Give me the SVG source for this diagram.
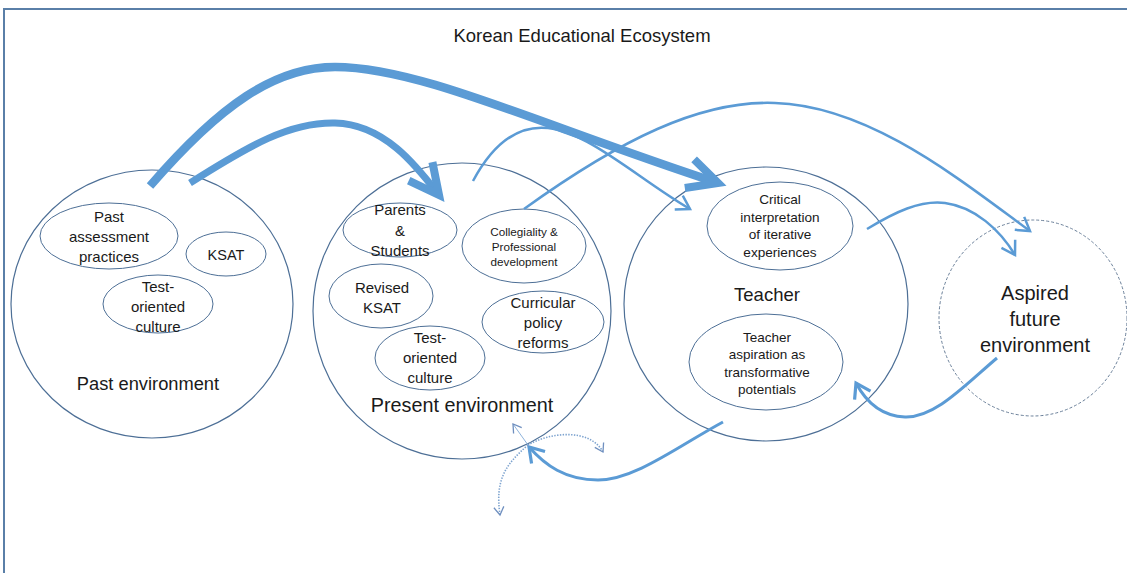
<svg xmlns="http://www.w3.org/2000/svg" width="1127" height="573" viewBox="0 0 1127 573">
<style>
text{font-family:"Liberation Sans",Arial,sans-serif;fill:#1a1a1a;text-anchor:middle}
.big{stroke:#4d6f96;stroke-width:1.2;fill:none}
.in{stroke:#4d6f96;stroke-width:1;fill:none}
.dash{stroke:#6a7f99;stroke-width:1;fill:none;stroke-dasharray:3 2}
.a{stroke:#5b9bd5;fill:none;stroke-linecap:butt}
.dot{stroke:#7da3cf;stroke-width:1.6;fill:none;stroke-dasharray:1.4 1.4}
</style>
<defs>
<marker id="mThick" markerUnits="userSpaceOnUse" viewBox="-45 -25 55 50" markerWidth="55" markerHeight="50" refX="0" refY="0" orient="auto" overflow="visible">
<path d="M-30,-15 L0,0 L-30,15" fill="none" stroke="#5b9bd5" stroke-width="8"/>
</marker>
<marker id="mThin" markerUnits="userSpaceOnUse" viewBox="-20 -12 24 24" markerWidth="24" markerHeight="24" refX="0" refY="0" orient="auto" overflow="visible">
<path d="M-13,-8 L0,0 L-13,8" fill="none" stroke="#5b9bd5" stroke-width="2.5"/>
</marker>
<marker id="mMed" markerUnits="userSpaceOnUse" viewBox="-20 -12 24 24" markerWidth="24" markerHeight="24" refX="0" refY="0" orient="auto" overflow="visible">
<path d="M-14,-9 L0,0 L-14,9" fill="none" stroke="#5b9bd5" stroke-width="3.2"/>
</marker>
<marker id="mSmall" markerUnits="userSpaceOnUse" viewBox="-12 -8 14 16" markerWidth="14" markerHeight="16" refX="0" refY="0" orient="auto" overflow="visible">
<path d="M-8,-5 L0,0 L-8,5" fill="none" stroke="#6f8fbf" stroke-width="1.3"/>
</marker>
</defs>
<rect width="1127" height="573" fill="#ffffff"/>
<rect x="4" y="9" width="1140" height="580" fill="none" stroke="#5a7fa8" stroke-width="2"/>
<text x="582" y="42" font-size="18.5">Korean Educational Ecosystem</text>

<g id="past">
<ellipse class="big" cx="152" cy="304" rx="141" ry="134"/>
<ellipse class="in" cx="109" cy="236" rx="69" ry="33"/>
<text font-size="15"><tspan x="109" y="222">Past</tspan><tspan x="109" y="242">assessment</tspan><tspan x="109" y="262">practices</tspan></text>
<ellipse class="in" cx="226" cy="254" rx="40" ry="22"/>
<text x="226" y="260" font-size="14.5">KSAT</text>
<ellipse class="in" cx="158" cy="304" rx="55" ry="29"/>
<text font-size="15"><tspan x="158" y="292">Test-</tspan><tspan x="158" y="312">oriented</tspan><tspan x="158" y="332">culture</tspan></text>
<text x="148" y="390" font-size="18.3">Past environment</text>
</g>

<g id="present">
<ellipse class="big" cx="462" cy="311" rx="149" ry="148"/>
<ellipse class="in" cx="400" cy="230" rx="57" ry="27"/>
<text font-size="15"><tspan x="400" y="215">Parents</tspan><tspan x="400" y="236">&amp;</tspan><tspan x="400" y="256">Students</tspan></text>
<ellipse class="in" cx="524" cy="246" rx="62" ry="37"/>
<text font-size="11.7"><tspan x="524" y="236">Collegiality &amp;</tspan><tspan x="524" y="251">Professional</tspan><tspan x="524" y="266">development</tspan></text>
<ellipse class="in" cx="381" cy="296" rx="52" ry="32"/>
<text font-size="15"><tspan x="382" y="293">Revised</tspan><tspan x="382" y="313">KSAT</tspan></text>
<ellipse class="in" cx="543" cy="322" rx="61" ry="31"/>
<text font-size="15"><tspan x="543" y="308">Curricular</tspan><tspan x="543" y="328">policy</tspan><tspan x="543" y="348">reforms</tspan></text>
<ellipse class="in" cx="430" cy="358" rx="55" ry="32"/>
<text font-size="15"><tspan x="430" y="343">Test-</tspan><tspan x="430" y="363">oriented</tspan><tspan x="430" y="383">culture</tspan></text>
<text x="462" y="412" font-size="19.8">Present environment</text>
</g>

<g id="teacher">
<ellipse class="big" cx="766" cy="304" rx="142" ry="137"/>
<ellipse class="in" cx="780" cy="226" rx="73" ry="44"/>
<text font-size="13.6"><tspan x="780" y="204">Critical</tspan><tspan x="780" y="222">interpretation</tspan><tspan x="780" y="239">of iterative</tspan><tspan x="780" y="257">experiences</tspan></text>
<text x="767" y="301" font-size="18.5">Teacher</text>
<ellipse class="in" cx="766" cy="362" rx="77" ry="48"/>
<text font-size="13.5"><tspan x="767" y="342">Teacher</tspan><tspan x="767" y="359">aspiration as</tspan><tspan x="767" y="377">transformative</tspan><tspan x="767" y="394">potentials</tspan></text>
</g>

<g id="aspired">
<ellipse class="dash" cx="1033" cy="318" rx="94" ry="98"/>
<text font-size="20"><tspan x="1035" y="300">Aspired</tspan><tspan x="1035" y="326">future</tspan><tspan x="1035" y="352">environment</tspan></text>
</g>

<g id="connectors">
<path class="a" stroke-width="8.5" d="M150,186 C220,105 275,67 335,67 C420,67 540,125 718,183" marker-end="url(#mThick)"/>
<path class="a" stroke-width="7" d="M190,183 C250,145 290,122 335,123 C385,124 418,168 439,195" marker-end="url(#mThick)"/>
<path class="a" stroke-width="2.5" d="M473,181 C495,140 520,125 548,128 C590,133 640,180 690,209" marker-end="url(#mThin)"/>
<path class="a" stroke-width="2.5" d="M524,209 C620,140 700,100 775,103 C870,106 960,180 1030,231" marker-end="url(#mThin)"/>
<path class="a" stroke-width="2.5" d="M867,229 C895,212 920,200 945,203 C975,207 1000,230 1015,255" marker-end="url(#mThin)"/>
<path class="a" stroke-width="3" d="M997,358 C965,385 935,418 905,417 C880,416 865,400 856,383" marker-end="url(#mMed)"/>
<path class="a" stroke-width="3" d="M723,422 C680,445 635,480 598,480 C565,480 545,465 529,447" marker-end="url(#mMed)"/>
<path d="M528,445 L513,424" stroke="#8fb4dc" stroke-width="1" fill="none" marker-end="url(#mSmall)"/>
<path class="dot" d="M528,445 C550,432 590,428 603,452" marker-end="url(#mSmall)"/>
<path class="dot" d="M528,445 C505,465 495,480 500,515" marker-end="url(#mSmall)"/>
</g>
</svg>
